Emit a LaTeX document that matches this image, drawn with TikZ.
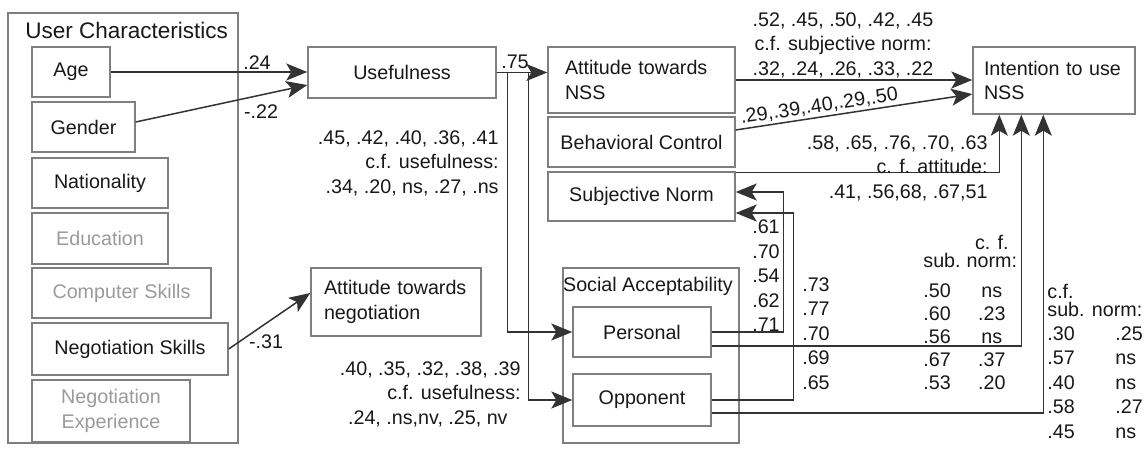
\documentclass[tikz,border=0pt]{standalone}
\usepackage{fontspec}
\setmainfont{Liberation Sans}
\usepackage{array}
\usetikzlibrary{arrows.meta,calc}

\definecolor{boxgray}{HTML}{7F7F7F}
\definecolor{wiregray}{HTML}{333333}
\definecolor{fadedtext}{HTML}{9A9A9A}
\definecolor{inktext}{HTML}{181818}

\begin{document}
\begin{tikzpicture}[x=0.5pt, y=-0.5pt,
    font=\fontsize{9.85}{12.25}\selectfont, text=inktext,
    varbox/.style={draw=boxgray, line width=0.7pt, inner sep=1pt},
    groupbox/.style={draw=boxgray, line width=0.7pt, inner sep=0pt},
    conn/.style={draw=wiregray, line width=0.75pt, -{Stealth[length=10.5pt,width=8.5pt,inset=2.5pt]}},
    faded/.style={text=fadedtext},
    coef/.style={inner sep=0pt}]
    \useasboundingbox (0,0) rectangle (1148,450);
\node[groupbox, minimum width=115pt, minimum height=215pt] (users) at (123,228) {}; % User Characteristics
\node[coef, anchor=west, font=\fontsize{11.25}{13.5}\selectfont] (userstitle) at (25,30) {User Characteristics};
\node[varbox, minimum width=39pt, minimum height=25pt] (age) at (71,72) {Age};
\node[varbox, minimum width=51.5pt, minimum height=25pt] (gender) at (83.5,127) {Gender};
\node[varbox, minimum width=68pt, minimum height=25pt] (nation) at (100,183) {Nationality};
\node[varbox, faded, minimum width=68pt, minimum height=25.5pt] (educ) at (100,238.5) {Education};
\node[varbox, faded, minimum width=89.5pt, minimum height=25pt] (compsk) at (121.5,293) {Computer Skills};
\node[varbox, minimum width=98pt, minimum height=26pt] (negsk) at (130,349) {Negotiation Skills};
\node[varbox, faded, align=center, minimum width=79pt, minimum height=31pt] (negexp) at (111,411) {Negotiation\\Experience};
\node[varbox, minimum width=94pt, minimum height=25.5pt] (usef) at (402,72.5) {Usefulness};
\node[varbox, align=left, text width=72pt, inner xsep=6.5pt, minimum height=34pt] (attneg) at (396,302) {Attitude towards\\negotiation};
\node[varbox, align=left, text width=76.5pt, inner xsep=8.5pt, minimum height=33pt] (attnss) at (641.5,80) {Attitude towards\\NSS};
\node[varbox, minimum width=93.5pt, minimum height=25pt] (behav) at (641.5,142) {Behavioral Control};
\node[varbox, minimum width=93.5pt, minimum height=24.5pt] (subjn) at (641.5,196.5) {Subjective Norm};
\node[varbox, align=left, text width=70pt, inner xsep=5.5pt, minimum height=33.5pt] (intent) at (1054,80.5) {Intention to use\\NSS};
\node[groupbox, minimum width=88pt, minimum height=87.5pt] (socacc) at (651,355.5) {}; % Social Acceptability
\node[coef] (socacctitle) at (648,286) {Social Acceptability};
\node[varbox, minimum width=69pt, minimum height=25pt] (personal) at (642,332) {Personal};
\node[varbox, minimum width=69pt, minimum height=26pt] (opponent) at (642,400) {Opponent};

\draw[conn] (age.east) -- (age.east -| usef.west) ; % age
\draw[conn] ($(gender.east)+(0,-5)$) -- ($(usef.west)+(0,12.5)$) ; % gender
\draw[conn] (negsk.east) -- ($(attneg.west)+(0,-9)$) ; % negotiation skills
\draw[conn] (usef.east) -- (usef.east -| attnss.west) ; % usefulness
\draw[conn] (usef.east) -- ++(11,0) |- (personal.west) ;
\draw[conn] (usef.east) -- ++(32,0) |- (opponent.west) ;
\draw[conn] (attnss.east) -- (attnss.east -| intent.west) ; % attitude
\draw[conn] ($(behav.east)+(0,-12)$) -- node[sloped, above, pos=.36, inner sep=1pt] (bclabel) {.29,.39,.40,.29,.50} ($(intent.west)+(0,13.5)$) ; % behavioral control
\draw[conn] ($(subjn.north east)+(0,1)$) -| ($(intent.south west)+(27,0)$) ; % subjective norm
\draw[conn] (personal.east) -- ++(72,0) |- ($(subjn.east)+(0,-4.5)$) ;
\draw[conn] (opponent.east) -- ++(82,0) |- ($(subjn.east)+(0,16.5)$) ;
\draw[conn] ($(personal.east)+(0,14)$) -| ($(intent.south west)+(49,0)$) ;
\draw[conn] ($(opponent.east)+(0,13)$) -| ($(intent.south west)+(71,0)$) ;

\node[coef] (agecoef) at (257,63) {.24};
\node[coef] (gendercoef) at (261,112) {-.22};
\node[coef] (usefcoef) at (515,62) {.75};
\node[coef] (negskcoef) at (266,342) {-.31};
\node[coef, anchor=east, align=right] (usefcf) at (499,163) {.45, .42, .40, .36, .41\\c.f. usefulness:\\.34, .20, ns, .27, .ns};
\node[coef, anchor=east, align=right] (attnegcf) at (521,394) {.40, .35, .32, .38, .39\\c.f. usefulness:\hspace*{2.5pt}\\.24, .ns,nv, .25, nv\hspace*{6.5pt}};
\node[coef, align=center] (attnsscf) at (843,45) {.52, .45, .50, .42, .45\\c.f. subjective norm:\\.32, .24, .26, .33, .22};
\node[coef, anchor=east, align=right] (subjncf) at (988,168) {.58, .65, .76, .70, .63\\c. f. attitude:\hspace*{5pt}\\.41, .56,68, .67,51};
\node[coef, align=center] (perscol) at (766,276) {.61\\.70\\.54\\.62\\.71};
\node[coef, align=center] (oppocol) at (816,333.5) {.73\\.77\\.70\\.69\\.65};
\node[coef, anchor=base west] (subtabA) at (923,249) {\renewcommand{\arraystretch}{0.94}%
  \begin{tabular}[t]{@{}l@{\hspace{3pt}}c@{}}
  & c. f.\\[-2.5pt]
  sub. & norm:\\[3.5pt]
  .50 & ns\\ .60 & .23\\ .56 & ns\\ .67 & .37\\ .53 & .20
  \end{tabular}};
\node[coef, anchor=base west] (subtabB) at (1047,298) {%
  \begin{tabular}[t]{@{}l@{\hspace{20.3pt}}l@{}}
  \multicolumn{2}{@{}l@{}}{c.f.}\\[-3.25pt]
  \multicolumn{2}{@{}l@{}}{sub. norm:}\\[-0.25pt]
  .30 & .25\\ .57 & ns\\ .40 & ns\\ .58 & .27\\ .45 & ns
  \end{tabular}};
    \end{tikzpicture}
\end{document}
